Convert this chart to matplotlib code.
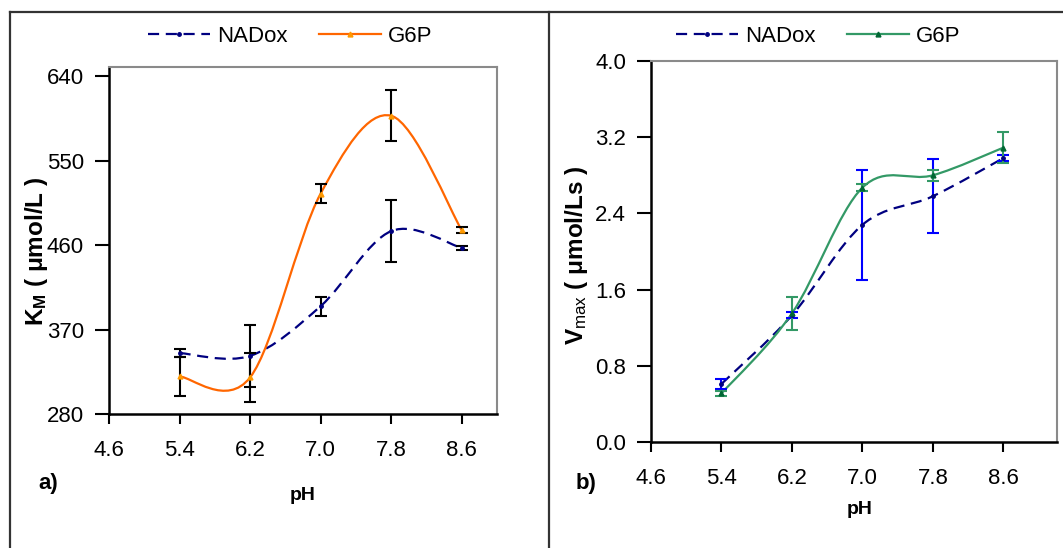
import numpy as np
import matplotlib.pyplot as plt
from matplotlib.path import Path
from matplotlib.patches import PathPatch
from matplotlib.lines import Line2D

plt.rcParams['font.family'] = ['Liberation Sans', 'DejaVu Sans']
plt.rcParams['mathtext.fontset'] = 'custom'
plt.rcParams['mathtext.rm'] = 'Liberation Sans'
plt.rcParams['mathtext.default'] = 'regular'

# --- data ---
ph = [5.4, 6.2, 7.0, 7.8, 8.6]

# a) K_M (umol/L)
km_nad = [345, 342, 395, 475, 457]
km_nad_err = [4, 33, 10, 33, 2]
km_g6p = [320, 319, 515, 598, 476]
km_g6p_err = [21, 26, 10, 27, 3]

# b) Vmax (umol/Ls)
vm_nad = [0.61, 1.33, 2.28, 2.58, 2.98]
vm_nad_err = [0.05, 0.03, 0.58, 0.39, 0.03]
vm_g6p = [0.51, 1.35, 2.67, 2.80, 3.09]
vm_g6p_err = [0.03, 0.17, 0.04, 0.06, 0.16]

xticks = [4.6, 5.4, 6.2, 7.0, 7.8, 8.6]

NAVY = '#000080'
ORANGE = '#FF6600'
GREEN = '#339966'


def smooth_path(x, y):
    # Excel-style smoothed line: cubic Bezier segments (Catmull-Rom control points)
    x = np.asarray(x, float)
    y = np.asarray(y, float)
    pts = np.column_stack([x, y])
    verts = [pts[0]]
    codes = [Path.MOVETO]
    n = len(pts)
    for i in range(n - 1):
        p0 = pts[i - 1] if i > 0 else pts[i]
        p1, p2 = pts[i], pts[i + 1]
        p3 = pts[i + 2] if i + 2 < n else pts[i + 1]
        c1 = p1 + (p2 - p0) / 6.0
        c2 = p2 - (p3 - p1) / 6.0
        verts += [c1, c2, p2]
        codes += [Path.CURVE4] * 3
    return Path(verts, codes)


def draw_series(ax, x, y, err, lc, ec, ls, marker, mc, ms):
    ax.add_patch(PathPatch(smooth_path(x, y), fill=False, edgecolor=lc,
                           linewidth=1.6, linestyle=ls, zorder=3))
    ax.errorbar(x, y, yerr=err, fmt='none', ecolor=ec, elinewidth=1.5,
                capsize=4, capthick=1.5, zorder=4)
    ax.plot(x, y, linestyle='None', marker=marker, color=mc, markersize=ms,
            zorder=5)


def style_axes(ax, ylim, yticks, ylabels, xmax):
    ax.set_xlim(4.6, xmax)
    ax.set_ylim(*ylim)
    ax.set_xticks(xticks)
    ax.set_xticklabels(['%.1f' % t for t in xticks])
    ax.set_yticks(yticks)
    ax.set_yticklabels(ylabels)
    ax.tick_params(axis='y', length=10, width=1.5, pad=8, labelsize=16)
    ax.tick_params(axis='x', length=7, width=1.5, pad=12, labelsize=16)
    for s in ['left', 'bottom']:
        ax.spines[s].set_linewidth(1.8)
        ax.spines[s].set_color('black')
    for s in ['top', 'right']:
        ax.spines[s].set_linewidth(1.5)
        ax.spines[s].set_color('#8a8a8a')


fig = plt.figure(figsize=(10.63, 5.48), dpi=100)

# outer frame lines
fig.add_artist(Line2D([10 / 1063, 1], [1 - 12 / 548] * 2, color='#333333', lw=1.6))
fig.add_artist(Line2D([10 / 1063] * 2, [0, 1 - 12 / 548], color='#333333', lw=1.6))
fig.add_artist(Line2D([549 / 1063] * 2, [0, 1 - 12 / 548], color='#333333', lw=1.6))

# ---- panel a ----
ax1 = fig.add_axes([109 / 1063, 1 - 414 / 548, 388 / 1063, 347 / 548])
draw_series(ax1, ph, km_nad, km_nad_err, NAVY, 'black', (0, (5, 3)), 'o', NAVY, 2.5)
draw_series(ax1, ph, km_g6p, km_g6p_err, ORANGE, 'black', '-', '^', '#FF9900', 3.5)
style_axes(ax1, (280, 650), [280, 370, 460, 550, 640],
           ['280', '370', '460', '550', '640'], 9.0)

fig.text(37 / 1063, 1 - 251 / 548, r'K$_{\mathregular{M}}$ ( μmol/L )',
         rotation=90, ha='center', va='center', fontsize=17.5, fontweight='bold')
fig.text(303 / 1063, 1 - 495 / 548, 'pH', ha='center', va='center',
         fontsize=14, fontweight='bold')
fig.text(48 / 1063, 1 - 484 / 548, 'a)', ha='center', va='center',
         fontsize=16, fontweight='bold')

h_nad = Line2D([], [], color=NAVY, lw=1.6, ls=(0, (5, 3)), marker='o', markersize=2.5)
h_g6p_a = Line2D([], [], color=ORANGE, lw=1.6, marker='^', markersize=3.5,
                 markerfacecolor='#FF9900', markeredgecolor='#FF9900')
fig.legend([h_nad, h_g6p_a], ['NADox', 'G6P'], loc='center',
           bbox_to_anchor=(290 / 1063, 1 - 36 / 548), ncol=2, frameon=False,
           fontsize=16, handlelength=2.8, handletextpad=0.3, columnspacing=1.4)

# ---- panel b ----
ax2 = fig.add_axes([651 / 1063, 1 - 442 / 548, 406 / 1063, 381 / 548])
draw_series(ax2, ph, vm_nad, vm_nad_err, NAVY, '#0000FF', (0, (5, 3)), 'o', NAVY, 2.5)
draw_series(ax2, ph, vm_g6p, vm_g6p_err, GREEN, GREEN, '-', '^', '#006633', 3.5)
style_axes(ax2, (0, 4.0), [0, 0.8, 1.6, 2.4, 3.2, 4.0],
           ['0.0', '0.8', '1.6', '2.4', '3.2', '4.0'], 9.21)

fig.text(577 / 1063, 1 - 255 / 548, r'V$_{\mathrm{max}}$ ( μmol/Ls )',
         rotation=90, ha='center', va='center', fontsize=17.5, fontweight='bold')
fig.text(860 / 1063, 1 - 510 / 548, 'pH', ha='center', va='center',
         fontsize=14, fontweight='bold')
fig.text(586 / 1063, 1 - 483 / 548, 'b)', ha='center', va='center',
         fontsize=16, fontweight='bold')

h_g6p_b = Line2D([], [], color=GREEN, lw=1.6, marker='^', markersize=3.5,
                 markerfacecolor='#006633', markeredgecolor='#006633')
fig.legend([h_nad, h_g6p_b], ['NADox', 'G6P'], loc='center',
           bbox_to_anchor=(818 / 1063, 1 - 36 / 548), ncol=2, frameon=False,
           fontsize=16, handlelength=2.8, handletextpad=0.3, columnspacing=1.4)

fig.savefig('out.png', dpi=100)
